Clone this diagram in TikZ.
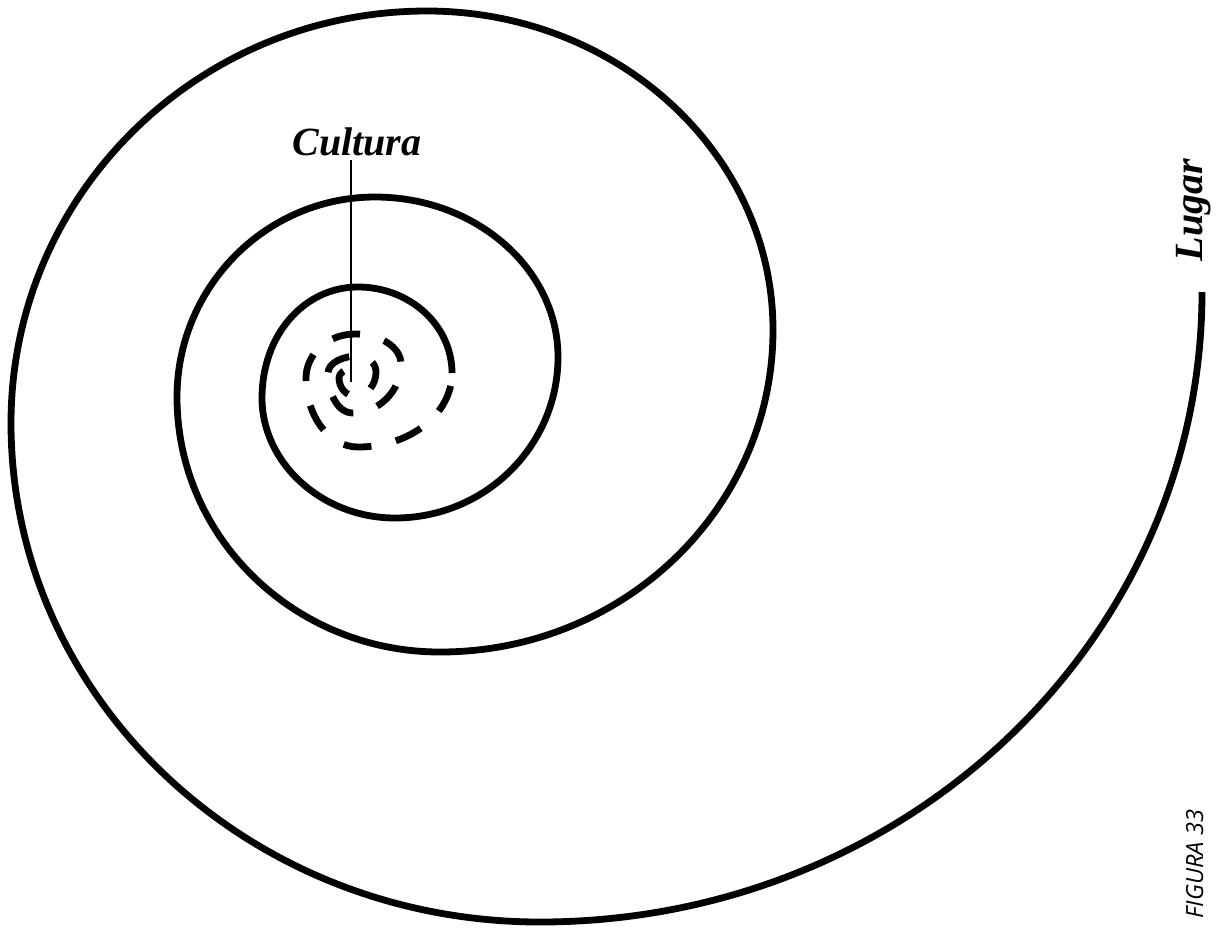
\documentclass[tikz,border=0pt]{standalone}
\usepackage{fontspec}
\setmainfont{Liberation Serif}
\newfontfamily\figfont{Open Sans}
\begin{document}
\begin{tikzpicture}[x=0.5pt,y=-0.5pt,
  spiral/.style={line width=3.4pt,line cap=butt,line join=round},
  dashspiral/.style={spiral,dash pattern=on 14pt off 12.5pt,dash phase=20pt},
  lbl/.style={font=\fontsize{20}{24}\selectfont\bfseries\itshape,inner sep=0pt},
  pointer/.style={line width=1.2pt}]
\useasboundingbox (0,0) rectangle (1220,927);
% solid part of the spiral
\draw[spiral] (1202,292)
  .. controls +(0,348) and +(366,0) .. (540,922)
  .. controls +(-292,0) and +(0,276) .. (11,423)
  .. controls +(0,-228) and +(-230,0) .. (427,11)
  .. controls +(191,0) and +(0,-176) .. (773,330)
  .. controls +(0,178) and +(184,0) .. (440,652)
  .. controls +(-145,0) and +(0,141) .. (177,397)
  .. controls +(0,-110) and +(-109,0) .. (375,197)
  .. controls +(101,0) and +(0,-88) .. (558,357)
  .. controls +(0,89) and +(90,0) .. (395,518)
  .. controls +(-73,0) and +(0,65) .. (262,398)
  .. controls +(0,-63) and +(-54,0) .. (358,287)
  .. controls +(52,0) and +(0,-47.5) .. (452,373);
% dashed inner part
\draw[dashspiral] (452,373)
  .. controls +(0,41) and +(52,0) .. (358,447)
  .. controls +(-29,0) and +(0,38) .. (306,378)
  .. controls +(0,-24) and +(-27,0) .. (355,334)
  .. controls +(25,0) and +(0,-17) .. (401,364)
  .. controls +(0,27) and +(27,0) .. (352,413)
  .. controls +(-13,0) and +(0,22) .. (328,373)
  .. controls +(0,-9.4) and +(-16.6,0) .. (358,356)
  .. controls +(10,0) and +(0,-8.8) .. (376,372)
  .. controls +(0,13.3) and +(11.6,0) .. (355,396)
  .. controls +(-8.8,0) and +(0,9.9) .. (339,378)
  .. controls +(0,-6) and +(-11.6,0) .. (360,367);
% labels
\node[lbl,anchor=base] (cultura) at (357,155) {Cultura};
\node[lbl,anchor=base,rotate=90] (lugar) at (1202,210) {Lugar};
\node[font=\figfont\itshape\fontsize{11.8}{14}\selectfont,inner sep=0pt,anchor=base,rotate=90] (fig) at (1203,864) {FIGURA 33};
\coordinate (ptop) at (351,160);
\coordinate (pbot) at (351,382);
\draw[pointer] (ptop) -- (pbot);
\end{tikzpicture}
\end{document}
